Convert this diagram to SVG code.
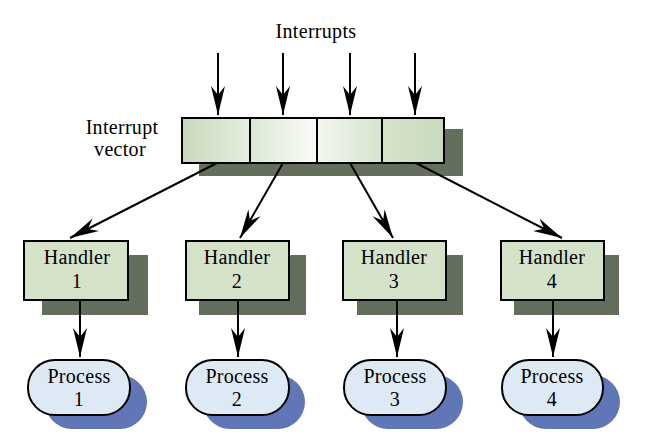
<svg xmlns="http://www.w3.org/2000/svg" width="647" height="448" viewBox="0 0 647 448">
<defs>
<marker id="ah" markerUnits="userSpaceOnUse" markerWidth="32" markerHeight="18" viewBox="-30 -9 32 18" refX="0" refY="0" orient="auto">
<path d="M0,0 L-29,-7 L-20,0 L-29,7 Z" fill="#000"/>
</marker>
<linearGradient id="gA" x1="0" y1="0" x2="1" y2="0"><stop offset="0" stop-color="#c8d9bc"/><stop offset="1" stop-color="#e6eedf"/></linearGradient>
<linearGradient id="gB" x1="0" y1="0" x2="1" y2="0"><stop offset="0" stop-color="#dce7d3"/><stop offset="1" stop-color="#fbfcfa"/></linearGradient>
<linearGradient id="gC" x1="0" y1="0" x2="1" y2="0"><stop offset="0" stop-color="#f4f7f1"/><stop offset="1" stop-color="#d7e4cd"/></linearGradient>
<linearGradient id="gD" x1="0" y1="0" x2="1" y2="0"><stop offset="0" stop-color="#d6e3cc"/><stop offset="1" stop-color="#c9dabd"/></linearGradient>
</defs>
<style>
.t{font-family:"Liberation Serif","Times New Roman",serif;font-size:20px;letter-spacing:0.3px;fill:#000;text-anchor:middle}
.hb{fill:#d5e2ca;stroke:#000;stroke-width:2}
.hs{fill:#636e5c}
.pb{fill:#dde9f4;stroke:#000;stroke-width:2}
.ps{fill:#6176b6}
.c{stroke:#000;stroke-width:2;fill:none;marker-end:url(#ah)}
</style>
<text class="t" x="316" y="38">Interrupts</text>
<g id="vector">
<text class="t" x="122" y="134">Interrupt</text>
<text class="t" x="120" y="156">vector</text>
<rect x="199" y="129" width="264" height="47" fill="#636e5c"/>
<rect x="182" y="118" width="68" height="45" fill="url(#gA)"/>
<rect x="250" y="118" width="67" height="45" fill="url(#gB)"/>
<rect x="317" y="118" width="65" height="45" fill="url(#gC)"/>
<rect x="382" y="118" width="62" height="45" fill="url(#gD)"/>
<rect x="182" y="118" width="262" height="45" fill="none" stroke="#000" stroke-width="2"/>
<line x1="250" y1="118" x2="250" y2="163" stroke="#000" stroke-width="2"/>
<line x1="317" y1="118" x2="317" y2="163" stroke="#000" stroke-width="2"/>
<line x1="382" y1="118" x2="382" y2="163" stroke="#000" stroke-width="2"/>
</g>
<g id="handler1"><rect class="hs" x="42" y="255" width="106" height="60"/><rect class="hb" x="24" y="241" width="104" height="59"/><text class="t" x="77" y="264">Handler</text><text class="t" x="77" y="288">1</text></g>
<g id="handler2"><rect class="hs" x="199" y="255" width="107" height="60"/><rect class="hb" x="186" y="241" width="103" height="59"/><text class="t" x="237" y="264">Handler</text><text class="t" x="237" y="288">2</text></g>
<g id="handler3"><rect class="hs" x="357" y="255" width="106" height="60"/><rect class="hb" x="343" y="241" width="103" height="59"/><text class="t" x="394" y="264">Handler</text><text class="t" x="394" y="288">3</text></g>
<g id="handler4"><rect class="hs" x="514" y="255" width="105" height="60"/><rect class="hb" x="501" y="241" width="103" height="59"/><text class="t" x="552" y="264">Handler</text><text class="t" x="552" y="288">4</text></g>
<g id="process1"><rect class="ps" x="45" y="375" width="102" height="54" rx="27"/><rect class="pb" x="28" y="360" width="102" height="55" rx="27"/><text class="t" x="79" y="383">Process</text><text class="t" x="79" y="406">1</text></g>
<g id="process2"><rect class="ps" x="203" y="375" width="102" height="54" rx="27"/><rect class="pb" x="186" y="360" width="103" height="55" rx="27"/><text class="t" x="237" y="383">Process</text><text class="t" x="237" y="406">2</text></g>
<g id="process3"><rect class="ps" x="361" y="375" width="102" height="54" rx="27"/><rect class="pb" x="344" y="360" width="102" height="55" rx="27"/><text class="t" x="395" y="383">Process</text><text class="t" x="395" y="406">3</text></g>
<g id="process4"><rect class="ps" x="519" y="375" width="101" height="54" rx="27"/><rect class="pb" x="502" y="360" width="101" height="55" rx="27"/><text class="t" x="552" y="383">Process</text><text class="t" x="552" y="406">4</text></g>
<g id="connectors">
<line class="c" x1="218" y1="53" x2="218" y2="115"/>
<line class="c" x1="283" y1="53" x2="283" y2="115"/>
<line class="c" x1="350" y1="53" x2="350" y2="115"/>
<line class="c" x1="415" y1="53" x2="415" y2="115"/>
<line class="c" x1="217" y1="163" x2="70" y2="238"/>
<line class="c" x1="283" y1="163" x2="240" y2="238"/>
<line class="c" x1="350" y1="163" x2="393" y2="238"/>
<line class="c" x1="416" y1="163" x2="562" y2="238"/>
<line class="c" x1="80" y1="300" x2="80" y2="357"/>
<line class="c" x1="238" y1="300" x2="238" y2="357"/>
<line class="c" x1="397" y1="300" x2="397" y2="357"/>
<line class="c" x1="553" y1="300" x2="553" y2="357"/>
</g>
</svg>
